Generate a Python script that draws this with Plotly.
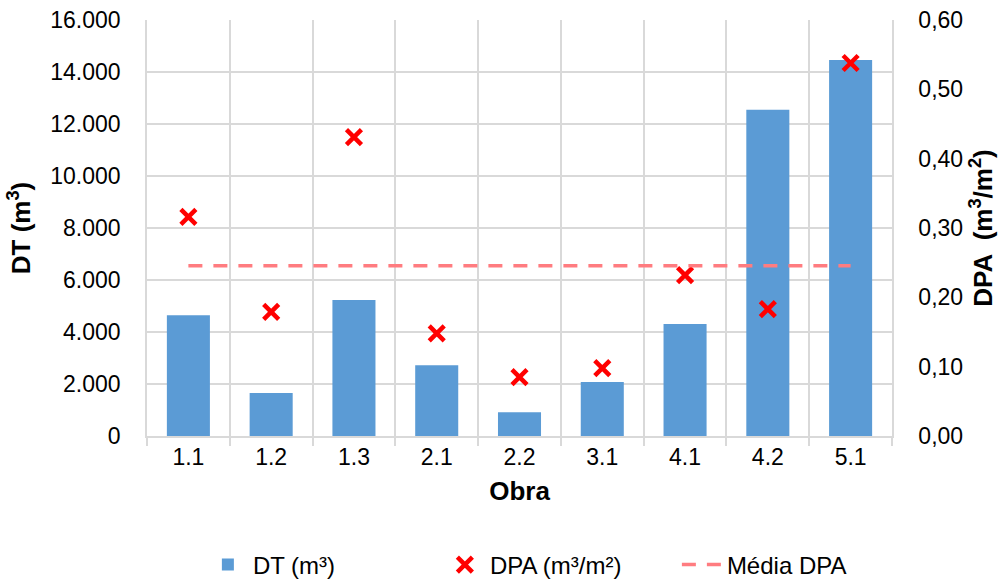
import plotly.graph_objects as go

obras = ["1.1", "1.2", "1.3", "2.1", "2.2", "3.1", "4.1", "4.2", "5.1"]
dt_m3 = [4640, 1650, 5230, 2720, 910, 2080, 4310, 12550, 14460]
dpa = [0.316, 0.179, 0.431, 0.148, 0.085, 0.098, 0.232, 0.183, 0.538]
media_dpa = sum(dpa) / len(dpa)

FONT = "Liberation Sans, Arial, sans-serif"
GRID = "#D9D9D9"

fig = go.Figure()
fig.add_trace(go.Bar(
    x=obras, y=dt_m3, name="DT (m³)", marker=dict(color="#5B9BD5", line=dict(width=0)),
    width=0.52, yaxis="y",
))
fig.add_trace(go.Scatter(
    x=obras, y=dpa, name="DPA (m³/m²)", mode="markers", yaxis="y2",
    marker=dict(symbol="x-thin", size=15, color="#FF0000", line=dict(width=4.5, color="#FF0000")),
))
fig.add_trace(go.Scatter(
    x=obras, y=[media_dpa] * len(obras), name="Média DPA", mode="lines", yaxis="y2",
    line=dict(color="#FF7C80", width=3.5, dash="14px,11px"),
))

fig.update_layout(
    width=1007, height=581,
    margin=dict(l=147, r=115, t=20, b=145, autoexpand=False),
    paper_bgcolor="white", plot_bgcolor="white",
    separators=",.",
    font=dict(family=FONT, size=23, color="#000000"),
    showlegend=True,
    legend=dict(orientation="h", x=0.075, xanchor="left", y=-0.31, yanchor="middle",
                font=dict(size=24), entrywidth=182, itemwidth=40),
    xaxis=dict(
        type="category", showgrid=True, gridcolor=GRID, gridwidth=1.5,
        tickson="boundaries", ticks="outside", ticklen=8, tickcolor=GRID, tickwidth=1.5,
        showline=True, linecolor=GRID, linewidth=1.5,
        tickfont=dict(size=23),
        title=dict(text="<b>Obra</b>", font=dict(size=26), standoff=12),
        range=[-0.5, 8.5],
    ),
    yaxis=dict(
        range=[0, 16000], dtick=2000, tickformat=",d",
        showgrid=True, gridcolor=GRID, gridwidth=1.5, zeroline=False,
        showline=True, linecolor=GRID, linewidth=1.5,
        ticklabelstandoff=20, tickfont=dict(size=23),
        title=dict(text="<b>DT (m<sup>3</sup>)</b>", font=dict(size=26), standoff=12),
    ),
    yaxis2=dict(
        range=[0, 0.6], dtick=0.1, tickformat=".2f", overlaying="y", side="right",
        showgrid=False, zeroline=False,
        showline=True, linecolor=GRID, linewidth=1.5,
        ticklabelstandoff=20, tickfont=dict(size=23),
        title=dict(text="<b>DPA  (m<sup>3</sup>/m<sup>2</sup>)</b>", font=dict(size=26), standoff=12),
    ),
)

fig.write_html("out.html")
